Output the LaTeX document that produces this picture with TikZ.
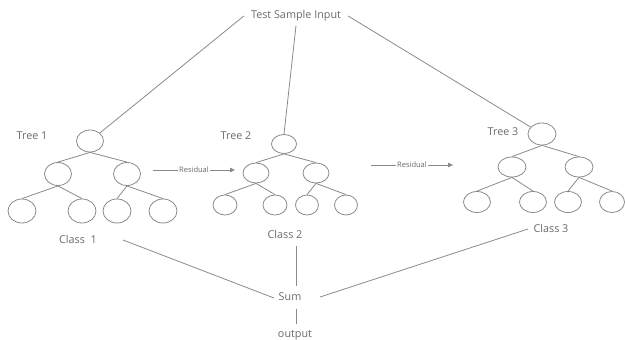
\documentclass[tikz,border=0pt]{standalone}
\usepackage{fontspec}
\setmainfont{Open Sans}
\usetikzlibrary{arrows.meta,shapes.geometric}
\definecolor{lc}{HTML}{8A8A8A}
\definecolor{tc}{HTML}{6A6A6A}
\begin{document}
\begin{tikzpicture}[x=1pt,y=-1pt,
  line/.style={draw=lc,line width=0.8pt},
  nd/.style={ellipse,draw=lc,line width=0.8pt,minimum width=#1,inner sep=0pt},
  nd/.default=27pt,
  lbl/.style={text=tc,font=\fontsize{10.8}{12}\selectfont,inner sep=1pt},
  res/.style={text=tc,font=\fontsize{7.5}{8}\selectfont,fill=white,inner sep=1.5pt},
]
\useasboundingbox (0,0) rectangle (625,340);
% top
\node[lbl,inner xsep=7pt,inner ysep=4pt] (tsi) at (296,16) {Test Sample Input};
% Tree 1
\node[lbl] (t1) at (32,136) {Tree 1};
\node[nd,minimum height=22pt] (a0) at (90,141) {};
\node[nd,minimum height=23pt] (a1) at (58,174) {};
\node[nd,minimum height=23pt] (a2) at (127,174) {};
\node[nd,minimum height=24pt,minimum width=28pt] (a3) at (22,211) {};
\node[nd,minimum height=24pt,minimum width=28pt] (a4) at (82,211) {};
\node[nd,minimum height=24pt,minimum width=28pt] (a5) at (117,211) {};
\node[nd,minimum height=24pt,minimum width=28pt] (a6) at (163,211) {};
\node[lbl] (c1) at (78,239) {Class\ \ 1};
% Tree 2
\node[lbl] (t2) at (236,136) {Tree 2};
\node[nd,minimum width=25pt,minimum height=19pt] (b0) at (284,144) {};
\node[nd,minimum width=26pt,minimum height=20pt] (b1) at (256,173) {};
\node[nd,minimum width=26pt,minimum height=20pt] (b2) at (316,173) {};
\node[nd,minimum width=24pt,minimum height=20pt] (b3) at (225,205) {};
\node[nd,minimum width=24pt,minimum height=20pt] (b4) at (275,205) {};
\node[nd,minimum width=23pt,minimum height=20pt] (b5) at (307,205) {};
\node[nd,minimum width=23pt,minimum height=20pt] (b6) at (346,205) {};
\node[lbl] (c2) at (285,234) {Class 2};
% Tree 3
\node[lbl] (t3) at (503,132) {Tree 3};
\node[nd,minimum width=28pt,minimum height=22pt] (d0) at (542,134) {};
\node[nd,minimum width=28pt,minimum height=20pt] (d1) at (512,167) {};
\node[nd,minimum width=28pt,minimum height=20pt] (d2) at (579,167) {};
\node[nd,minimum width=27pt,minimum height=21pt] (d3) at (477,202) {};
\node[nd,minimum width=27pt,minimum height=21pt] (d4) at (533,202) {};
\node[nd,minimum width=27pt,minimum height=21pt] (d5) at (568,202) {};
\node[nd,minimum width=25pt,minimum height=21pt] (d6) at (612,202) {};
\node[lbl] (c3) at (551,228) {Class 3};
% bottom
\node[lbl] (sum) at (290,297) {Sum};
\node[lbl] (out) at (295,335) {output};
% coordinates
\coordinate (l1a) at (123,240);
\coordinate (l1b) at (274,298);
\coordinate (l3a) at (528,229);
\coordinate (l3b) at (320,297);
\coordinate (v1a) at (296,246);
\coordinate (v1b) at (296,286);
\coordinate (v2a) at (296,309);
\coordinate (v2b) at (296,324);
\coordinate (r1a) at (153,170);
\coordinate (r1b) at (235,170);
\coordinate (r2a) at (371,165);
\coordinate (r2b) at (453,165);
% top connectors
\draw[line] (tsi.west) -- (a0);
\draw[line] (tsi.south) -- (b0.north);
\draw[line] (tsi.east) -- (d0);
% tree edges
\foreach \p/\c in {a0/a1,a0/a2,a1/a3,a1/a4,a2/a5,a2/a6,
                   b0/b1,b0/b2,b1/b3,b1/b4,b2/b5,b2/b6,
                   d0/d1,d0/d2,d1/d3,d1/d4,d2/d5,d2/d6}
  \draw[line] (\p.south) -- (\c.north);
% residual arrows
\draw[line,-{Triangle[length=5pt,width=4.5pt]},fill=lc] (r1a) -- node[res]{Residual} (r1b);
\draw[line,-{Triangle[length=5pt,width=4.5pt]},fill=lc] (r2a) -- node[res]{Residual} (r2b);
% bottom connectors
\draw[line] (l1a) -- (l1b);
\draw[line] (l3a) -- (l3b);
\draw[line] (v1a) -- (v1b);
\draw[line] (v2a) -- (v2b);
\end{tikzpicture}
\end{document}
